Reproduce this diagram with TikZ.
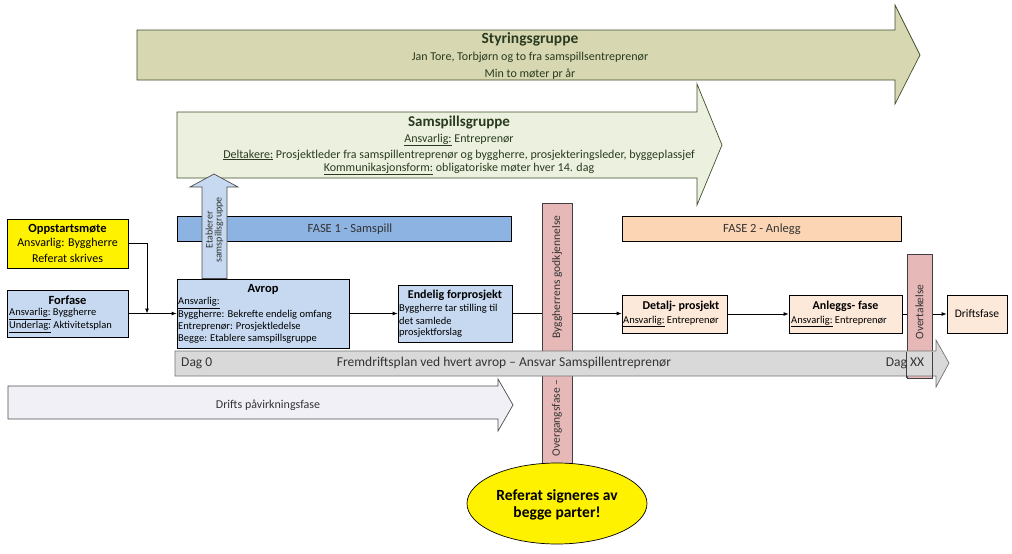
\documentclass[tikz,border=0pt]{standalone}
\usepackage{fontspec}
\setmainfont{Carlito}
\usetikzlibrary{shapes.geometric,arrows.meta}
\definecolor{styr}{HTML}{D7D8B1}
\definecolor{samsp}{HTML}{EBF1DE}
\definecolor{blu}{HTML}{C6D9F1}
\definecolor{faseA}{HTML}{8DB3E2}
\definecolor{faseB}{HTML}{FCD5B5}
\definecolor{peach}{HTML}{FDE9D9}
\definecolor{pinkbar}{HTML}{E6B9B8}
\definecolor{greyarr}{HTML}{D9D9D9}
\definecolor{drifts}{HTML}{F2F0F7}
\definecolor{olivetxt}{HTML}{2A3A20}
\definecolor{olivebd}{HTML}{3F4F2A}
\definecolor{darktxt}{HTML}{333333}
\begin{document}
\begin{tikzpicture}[x=1pt,y=-1pt,
  box/.style={draw=black,line width=0.8pt,inner sep=0pt,minimum width=#1},
  txt/.style={inner sep=0pt,text=black},
  conn/.style={draw=black,line width=0.8pt,-{Latex[length=5pt,width=4pt]}},
  bigarr/.style={line width=0.7pt},
  bar/.style={draw=black!75,line width=0.8pt,fill=pinkbar,inner sep=0pt},
  fs/.style={font=\fontsize{#1}{#1}\selectfont},
  fb/.style={font=\fontsize{#1}{#1}\selectfont\bfseries},
]
\useasboundingbox (0,0) rectangle (1012,554);
% Styringsgruppe arrow
\draw[bigarr,draw=olivebd,fill=styr] (137,30) -- (895,30) -- (895,5) -- (920,55) -- (895,104) -- (895,80) -- (137,80) -- cycle;
\node[txt,fb=15.5,text=olivetxt] (styrT) at (530,39) {Styringsgruppe};
\node[txt,fs=12,text=olivetxt] (styr1) at (530,57) {Jan Tore, Torbjørn og to fra samspillsentreprenør};
\node[txt,fs=12,text=olivetxt] (styr2) at (530,74) {Min to møter pr år};
% Samspillsgruppe arrow
\draw[bigarr,draw=olivebd,fill=samsp] (177,112) -- (697,112) -- (697,84) -- (722,145) -- (697,205) -- (697,178) -- (177,178) -- cycle;
\node[txt,fb=15,text=olivetxt] (samT) at (459,123) {Samspillsgruppe};
\node[txt,fs=12,text=olivetxt] (sam1) at (459,140) {\underline{Ansvarlig:} Entreprenør};
\node[txt,fs=12,text=olivetxt] (sam2) at (459,155) {\underline{Deltakere:} Prosjektleder fra samspillentreprenør og byggherre, prosjekteringsleder, byggeplassjef};
\node[txt,fs=12,text=olivetxt] (sam3) at (459,169) {\underline{Kommunikasjonsform:} obligatoriske møter hver 14. dag};
% Fase bars
\node[box=334pt,minimum height=25pt,fill=faseA] (fase1) at (344,229) {};
\node[txt,fs=12.5,text=darktxt] (fase1T) at (350,229) {FASE 1 - Samspill};
\node[box=279pt,minimum height=25pt,fill=faseB] (fase2) at (761.5,229) {};
\node[txt,fs=12.5,text=darktxt] (fase2T) at (762,229) {FASE 2 - Anlegg};
% Boxes
\node[box=121pt,minimum height=49pt,fill=yellow] (oppstart) at (67.5,243.5) {};
\node[txt,fb=12.5] (oppT) at (67.5,229) {Oppstartsmøte};
\node[txt,fs=12] (opp1) at (67.5,243.5) {Ansvarlig: Byggherre};
\node[txt,fs=12] (opp2) at (67.5,258) {Referat skrives};
\node[box=121pt,minimum height=47pt,fill=blu] (forfase) at (67.5,313.5) {};
\node[txt,fb=12.5] (forT) at (67.5,300) {Forfase};
\node[txt,fs=10.5,anchor=west] (for1) at (9,314) {\underline{Ansvarlig:} Byggherre};
\node[txt,fs=10.5,anchor=west] (for2) at (9,327) {\underline{Underlag:} Aktivitetsplan};
\node[box=172pt,minimum height=69pt,fill=blu] (avrop) at (263,313.5) {};
\node[txt,fb=12.5] (avT) at (263,289) {Avrop};
\node[txt,fs=10.5,anchor=west] (av1) at (178,303) {\underline{Ansvarlig:}};
\node[txt,fs=10.5,anchor=west] (av2) at (178,315) {Byggherre: Bekrefte endelig omfang};
\node[txt,fs=10.5,anchor=west] (av3) at (178,327) {Entreprenør: Prosjektledelse};
\node[txt,fs=10.5,anchor=west] (av4) at (178,339) {Begge: Etablere samspillsgruppe};
\node[box=114pt,minimum height=57pt,fill=blu] (endelig) at (455,313.5) {};
\node[txt,fb=12] (endT) at (455,295) {Endelig forprosjekt};
\node[txt,fs=10.5,anchor=west] (end1) at (399,309) {Byggherre tar stilling til};
\node[txt,fs=10.5,anchor=west] (end2) at (399,321) {det samlede};
\node[txt,fs=10.5,anchor=west] (end3) at (399,333) {prosjektforslag};
\node[box=105pt,minimum height=38pt,fill=peach] (detalj) at (674.5,314) {};
\node[txt,fb=12] (detT) at (681,306) {Detalj- prosjekt};
\node[txt,fs=10.5,anchor=west] (det1) at (623,321.5) {\underline{Ansvarlig:} Entreprenør};
\node[box=113pt,minimum height=38pt,fill=peach] (anlegg) at (845.5,314) {};
\node[txt,fb=12] (anlT) at (845.5,306) {Anleggs- fase};
\node[txt,fs=10.5,anchor=west] (anl1) at (791,321.5) {\underline{Ansvarlig:} Entreprenør};
\node[box=60pt,minimum height=38pt,fill=peach] (drift) at (977,314) {};
\node[txt,fs=11.5] (driftT) at (977,314) {Driftsfase};
% Etablerer arrow
\draw[line width=0.7pt,draw=black!70,fill=blu] (202,278.5) -- (202,187) -- (190,187) -- (214,174) -- (238,187) -- (227,187) -- (227,278.5) -- cycle;
\node[txt,fs=10,rotate=90,align=center,text=darktxt] (etabT) at (214.5,230) {Etablerer\\[-1pt]samspillsgruppe};
% Connectors
\coordinate (join) at (147,313.5);
\draw[conn] (oppstart.east) -| (join);
\draw[conn] (forfase.east) -- (avrop.west |- forfase.east);
\draw[conn] (avrop.east) -- (endelig.west |- avrop.east);
\draw[conn] (endelig.east) -- (detalj.west |- endelig.east);
\draw[conn] (detalj.east) -- (anlegg.west);
\draw[conn] (anlegg.east) -- (drift.west);
% Pink bars
\node[bar,minimum width=30pt,minimum height=260pt] (overgang) at (557,333) {};
\node[txt,fs=11.5,rotate=90,text=darktxt] (overgT1) at (557,277) {Byggherrens godkjennelse};
\node[txt,fs=11.5,rotate=90,text=darktxt] (overgT2) at (557,418) {Overgangsfase –};
\node[bar,minimum width=25pt,minimum height=124pt] (overtak) at (919.5,316) {};
\node[txt,fs=11.5,rotate=90,text=darktxt] (overtakT) at (919.5,312) {Overtakelse};
% Grey arrow
\draw[bigarr,draw=black!55,fill=greyarr] (175,351) -- (936,351) -- (936,340) -- (949,363) -- (936,387) -- (936,376) -- (175,376) -- cycle;
\draw[line width=0.8pt,draw=black!75] (overtak.south west) -- ++(0,-26) (overtak.south east) -- ++(0,-26);
\node[txt,fs=13.5,anchor=west,text=darktxt] (dag0) at (181,363) {Dag 0};
\node[txt,fs=13.5,text=darktxt] (fremT) at (504,363) {Fremdriftsplan ved hvert avrop – Ansvar Samspillentreprenør};
\node[txt,fs=13.5,text=darktxt] (dagxx) at (905,363) {Dag XX};
% Drifts arrow
\draw[bigarr,draw=black!70,fill=drifts] (8,386) -- (498,386) -- (498,379) -- (513,405) -- (498,431) -- (498,419) -- (8,419) -- cycle;
\node[txt,fs=12,text=darktxt] (driftsT) at (268,405) {Drifts påvirkningsfase};
% Ellipse
\node[ellipse,draw=black,line width=0.7pt,fill=yellow,minimum width=180pt,minimum height=81pt,inner sep=0pt] (referat) at (557,503.5) {};
\node[txt,fb=15.5,align=center] (refT) at (557,505) {Referat signeres av\\[2pt]begge parter!};
\end{tikzpicture}
\end{document}
